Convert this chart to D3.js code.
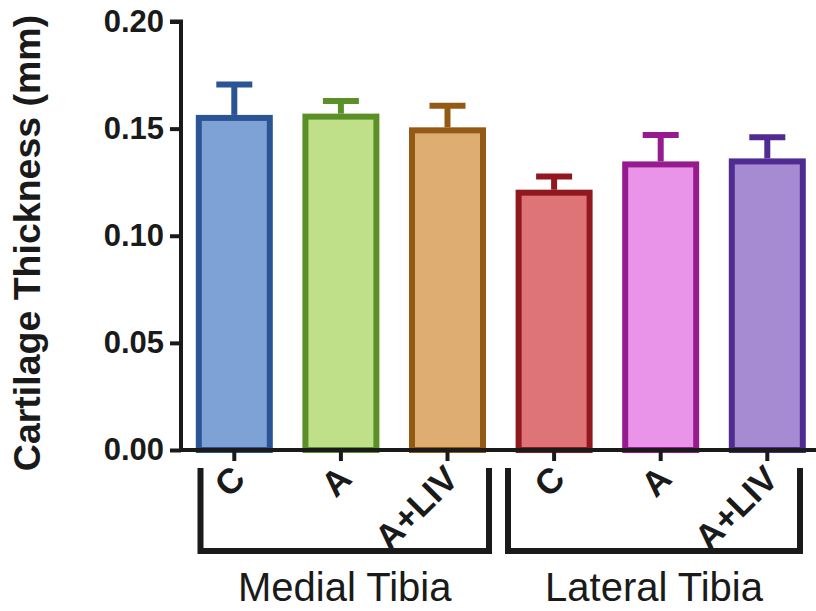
<!DOCTYPE html>
<html>
<head>
<meta charset="utf-8">
<script src="https://cdn.jsdelivr.net/npm/d3@7"></script>
<style>
  html, body { margin: 0; padding: 0; background: #fff; }
  svg { display: block; }
  text { font-family: "Liberation Sans", Arial, Helvetica, sans-serif; }
</style>
</head>
<body>
<svg id="chart" width="816" height="611"></svg>
<script>
// ---- Data ----
const categories = ["C", "A", "A+LIV", "C", "A", "A+LIV"];
const groupNames = ["Medial Tibia", "Lateral Tibia"];
const means = [0.155, 0.1556, 0.1492, 0.1201, 0.1333, 0.1347];
const errors = [0.0156, 0.0073, 0.0115, 0.0076, 0.0137, 0.0113];
const strokeColors = ["#2a5494", "#5a9027", "#925a14", "#921820", "#951b8f", "#502b91"];
const fillColors = ["#7ea2d6", "#bfdf88", "#ddad72", "#df7478", "#e994e8", "#a68bd3"];
const yTicks = [0.00, 0.05, 0.10, 0.15, 0.20];
const yTitle = "Cartilage Thickness (mm)";

// ---- Layout ----
const svg = d3.select("#chart");
const x0 = 181, y0 = 450;
const idx = d3.range(categories.length);

const x = d3.scaleBand().domain(idx).range([x0, x0 + 6 * 106.6]).paddingInner(0.334).paddingOuter(0.167);
const y = d3.scaleLinear().domain([0, 0.2]).range([y0, 21.5]);

// bars
const barStroke = 6;
svg.append("g").selectAll("rect").data(idx).join("rect")
  .attr("x", i => x(i))
  .attr("width", x.bandwidth())
  .attr("y", i => y(means[i]))
  .attr("height", i => y(0) - y(means[i]))
  .attr("fill", i => fillColors[i])
  .attr("stroke", i => strokeColors[i])
  .attr("stroke-width", barStroke);

// error bars (upper only)
const capW = 36;
const eg = svg.append("g");
idx.forEach(i => {
  const cx = x(i) + x.bandwidth() / 2;
  eg.append("line")
    .attr("x1", cx).attr("x2", cx)
    .attr("y1", y(means[i]) - barStroke / 2).attr("y2", y(means[i] + errors[i]))
    .attr("stroke", strokeColors[i]).attr("stroke-width", 6);
  eg.append("line")
    .attr("x1", cx - capW / 2).attr("x2", cx + capW / 2)
    .attr("y1", y(means[i] + errors[i])).attr("y2", y(means[i] + errors[i]))
    .attr("stroke", strokeColors[i]).attr("stroke-width", 6);
});

// y axis
const yAxis = d3.axisLeft(y).tickValues(yTicks).tickFormat(d3.format(".2f")).tickSize(11).tickPadding(6);
const yg = svg.append("g").attr("transform", `translate(${x0},0)`).call(yAxis);
yg.select(".domain").attr("stroke", "#1a1a1a").attr("stroke-width", 4).attr("d", `M-11,${y(0.2)}H0V${y0}`);
yg.selectAll(".tick line").attr("stroke", "#1a1a1a").attr("stroke-width", 4);
yg.selectAll(".tick text").attr("font-size", 31).attr("font-weight", "bold").attr("fill", "#1a1a1a")
  .attr("font-family", "'Liberation Sans', Arial, sans-serif");

// x axis
const xAxis = d3.axisBottom(x).tickSize(11).tickFormat("");
const xg = svg.append("g").attr("transform", `translate(0,${y0})`).call(xAxis);
xg.select(".domain").attr("stroke", "#1a1a1a").attr("stroke-width", 4).attr("d", `M${x0 - 2},0H816`);
xg.selectAll(".tick line").attr("stroke", "#1a1a1a").attr("stroke-width", 4);

// category labels rotated
svg.append("g").selectAll("text").data(idx).join("text")
  .attr("transform", i => `translate(${x(i) + x.bandwidth() / 2 - 5},${y0 + 13}) rotate(-45)`)
  .attr("text-anchor", "end")
  .attr("dy", "0.72em")
  .attr("font-size", 35).attr("font-weight", "bold").attr("fill", "#1a1a1a")
  .text(i => categories[i]);

// group brackets
const brackets = [[200.5, 489], [508, 800]];
groupNames.forEach((g, k) => {
  const [bx1, bx2] = brackets[k];
  svg.append("path")
    .attr("d", `M${bx1},468V551H${bx2}V468`)
    .attr("fill", "none").attr("stroke", "#1a1a1a").attr("stroke-width", 6);
  svg.append("text")
    .attr("x", (bx1 + bx2) / 2).attr("y", 601)
    .attr("text-anchor", "middle")
    .attr("font-size", 40).attr("fill", "#1a1a1a")
    .text(g);
});

// y title
svg.append("text")
  .attr("transform", `translate(40,243) rotate(-90)`)
  .attr("text-anchor", "middle")
  .attr("font-size", 37.5).attr("font-weight", "bold").attr("fill", "#1a1a1a")
  .text(yTitle);
</script>
</body>
</html>
